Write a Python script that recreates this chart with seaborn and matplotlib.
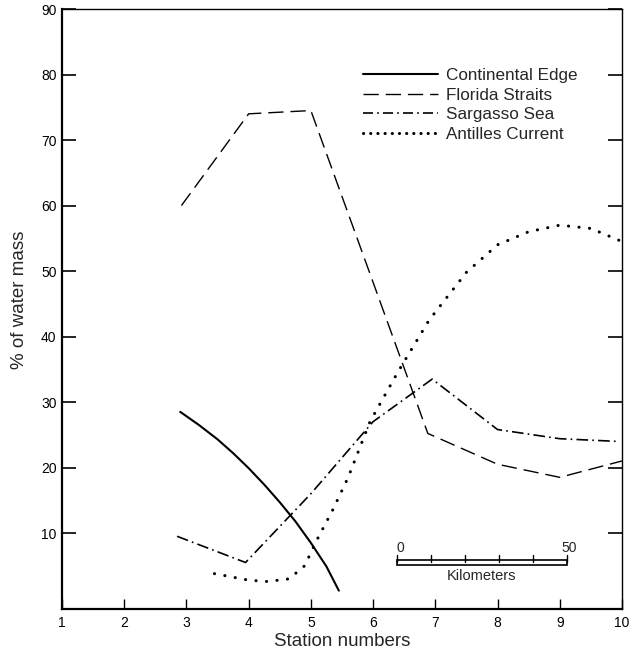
import pandas as pd
import numpy as np
import matplotlib
matplotlib.use("Agg")
import matplotlib.pyplot as plt
import seaborn as sns

sns.set_style("ticks")
plt.rcParams['font.family'] = ['Liberation Sans', 'DejaVu Sans']


#----------------------------------------------------------------------
# values
continental_x = [2.9, 3.2, 3.5, 3.75, 4.0, 4.25, 4.5, 4.75, 5.0, 5.25, 5.45]
continental_y = [28.5, 26.5, 24.3, 22.2, 19.9, 17.4, 14.7, 11.8, 8.5, 4.9, 1.2]

florida_x = [2.92, 4.0, 5.0, 6.88, 8.0, 9.0, 10.0]
florida_y = [60.0, 74.0, 74.5, 25.2, 20.5, 18.5, 21.0]

sargasso_x = [2.85, 3.95, 5.0, 6.0, 6.95, 8.0, 9.0, 9.9]
sargasso_y = [9.5, 5.5, 16.0, 27.0, 33.5, 25.8, 24.4, 24.0]

antilles_x = [3.45, 4.0, 4.3, 4.65, 4.9, 5.1, 5.35, 5.6, 5.95, 6.4, 6.9,
              7.5, 8.0, 8.5, 9.0, 9.5, 10.0]
antilles_y = [3.8, 2.8, 2.6, 3.0, 5.0, 9.0, 13.5, 18.5, 27.0, 34.6, 42.5,
              49.8, 54.0, 56.0, 57.0, 56.5, 54.5]

series_names = ["Continental Edge", "Florida Straits", "Sargasso Sea", "Antilles Current"]
x_ticks = list(range(1, 11))
y_ticks = list(range(10, 91, 10))


#----------------------------------------------------------------------
frames = []
for name, xs, ys in zip(series_names,
                        [continental_x, florida_x, sargasso_x, antilles_x],
                        [continental_y, florida_y, sargasso_y, antilles_y]):
    frames.append(pd.DataFrame({"station": xs, "pct": ys, "series": name}))
data = pd.concat(frames, ignore_index=True)

styles = {
    "Continental Edge": dict(lw=1.5, dashes=None, leg=None, cap="butt"),
    "Florida Straits": dict(lw=1.0, dashes=(11, 5), leg=(11, 5), cap="butt"),
    "Sargasso Sea": dict(lw=1.2, dashes=(7, 2.5, 1, 2.5), leg=(6, 2.5, 1, 2.5), cap="butt"),
    "Antilles Current": dict(lw=2.2, dashes=(0.05, 3.4), leg=(0.05, 2.3), cap="round"),
}


#----------------------------------------------------------------------
fig = plt.figure(figsize=(6.32, 6.54), dpi=100)
ax = fig.add_axes([0.0981, 0.0688, 0.886, 0.9174])

for name in series_names:
    sub = data[data["series"] == name]
    st = styles[name]
    sns.lineplot(data=sub, x="station", y="pct", ax=ax, color="black",
                 lw=st["lw"], label=name, sort=False)
    line = ax.lines[-1]
    if st["dashes"] is not None:
        line.set_dashes(st["dashes"])
    line.set_dash_capstyle(st["cap"])

ax.set_xlim(1, 10)
ax.set_ylim(-1.6, 90)
ax.set_xticks(x_ticks)
ax.set_yticks(y_ticks)
ax.tick_params(axis="y", direction="in", length=10, width=1.2, right=True,
               labelsize=10, pad=4, colors="black")
ax.tick_params(axis="x", direction="in", length=7, width=1.0,
               labelsize=10, pad=5, colors="black")

for side, w in [("left", 1.6), ("bottom", 1.6), ("top", 1.0), ("right", 1.0)]:
    ax.spines[side].set_visible(True)
    ax.spines[side].set_linewidth(w)
    ax.spines[side].set_color("black")

ax.set_xlabel("Station numbers", fontsize=13.5, labelpad=2)
ax.set_ylabel("% of water mass", fontsize=13.5)
ax.yaxis.set_label_coords(-0.06, 0.515)

leg = ax.legend(loc="upper left", bbox_to_anchor=(0.538, 0.902), frameon=False,
                fontsize=12.3, handlelength=4.4, handletextpad=0.42,
                labelspacing=0.28, borderpad=0, borderaxespad=0)
for h, name in zip(leg.get_lines(), series_names):
    st = styles[name]
    if st["leg"] is not None:
        h.set_dashes(st["leg"])
    h.set_dash_capstyle(st["cap"])

# scale bar
bx0, bx1, by = 0.598, 0.902, 0.078
ax.add_patch(plt.Rectangle((bx0, by - 0.004), bx1 - bx0, 0.008,
                           transform=ax.transAxes, fill=False, lw=1.2, ec="black"))
for f in np.linspace(bx0, bx1, 6):
    ax.plot([f, f], [by, by + 0.012], transform=ax.transAxes, color="black", lw=1)
ax.text(bx0, by + 0.012, "0", transform=ax.transAxes, ha="left", va="bottom", fontsize=10)
ax.text(bx1 + 0.004, by + 0.012, "50", transform=ax.transAxes, ha="center", va="bottom", fontsize=10)
ax.text((bx0 + bx1) / 2, by - 0.012, "Kilometers", transform=ax.transAxes,
        ha="center", va="top", fontsize=10.5)

fig.savefig("out.png", dpi=100)
plt.close()
